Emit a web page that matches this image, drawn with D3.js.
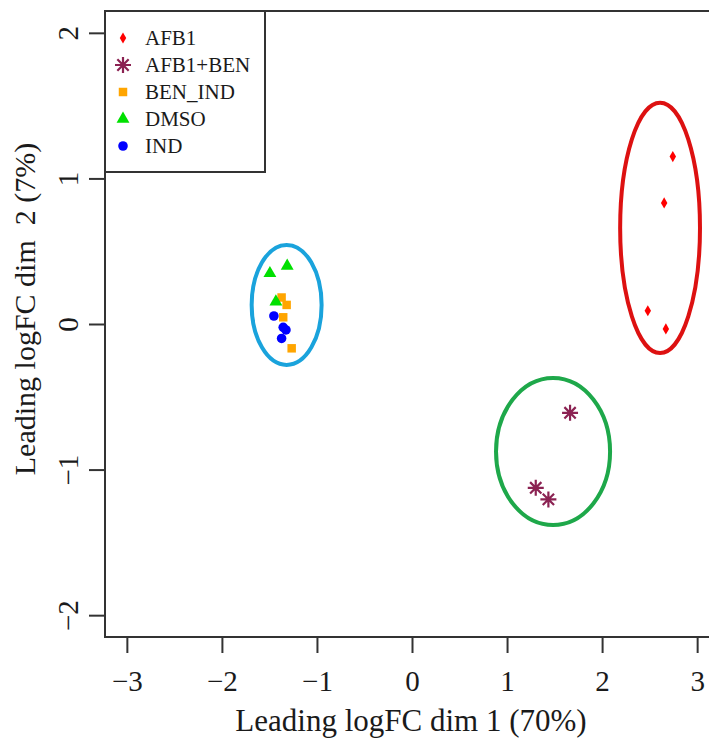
<!DOCTYPE html>
<html>
<head>
<meta charset="utf-8">
<script src="https://cdn.jsdelivr.net/npm/d3@7"></script>
<style>
  body { margin: 0; background: #fff; }
  svg text { font-family: "Liberation Serif", "Times New Roman", serif; fill: #1a1a1a; }
</style>
</head>
<body>
<script>
// MDS plot, leading logFC dims

var width = 709,
    height = 742;

// groups and sample coordinates (dim1, dim2)
var groups = ["AFB1", "AFB1+BEN", "BEN_IND", "DMSO", "IND"];
var groupColors = ["#ff0000", "#8b2252", "#ffa500", "#00e000", "#0000ff"];
var groupShapes = ["diamond", "asterisk", "square", "triangle", "circle"];

var afb1 = [[2.744, 1.150], [2.653, 0.832], [2.481, 0.091], [2.671, -0.034]];
var afb1Ben = [[1.663, -0.610], [1.302, -1.125], [1.435, -1.205]];
var benInd = [[-1.372, 0.182], [-1.319, 0.131], [-1.355, 0.046], [-1.266, -0.167]];
var dmso = [[-1.495, 0.348], [-1.313, 0.399], [-1.432, 0.153]];
var ind = [[-1.453, 0.055], [-1.355, -0.023], [-1.326, -0.041], [-1.372, -0.099]];

var samples = [afb1, afb1Ben, benInd, dmso, ind];

// cluster ellipses: centre x, centre y, radius x, radius y (data units)
var ellipseCx = [2.61, 1.484, -1.319];
var ellipseCy = [0.66, -0.876, 0.131];
var ellipseRx = [0.42, 0.60, 0.368];
var ellipseRy = [0.86, 0.505, 0.412];
var ellipseColors = ["#dd1111", "#1ea84a", "#1aa3dc"];

var xTicks = [-3, -2, -1, 0, 1, 2, 3];
var yTicks = [-2, -1, 0, 1, 2];

var svg = d3.select("body")
    .append("svg")
    .attr("width", width)
    .attr("height", height);

var x = d3.scaleLinear()
    .domain([-3.23, 3.23])
    .range([105, 719]);

var y = d3.scaleLinear()
    .domain([-2.15, 2.15])
    .range([637, 11]);

// ellipses
svg.append("g")
  .selectAll("ellipse")
  .data(ellipseCx)
  .enter().append("ellipse")
    .attr("cx", function(d) { return x(d); })
    .attr("cy", function(d, i) { return y(ellipseCy[i]); })
    .attr("rx", function(d, i) { return x(d + ellipseRx[i]) - x(d); })
    .attr("ry", function(d, i) { return y(ellipseCy[i] - ellipseRy[i]) - y(ellipseCy[i]); })
    .attr("fill", "none")
    .attr("stroke", function(d, i) { return ellipseColors[i]; })
    .attr("stroke-width", 4);

// draw one marker
function marker(sel, shape, color) {
    if (shape === "asterisk") {
        var r = 8, d = r * 0.707;
        var p = "M" + (-r) + ",0H" + r + "M0," + (-r) + "V" + r +
                "M" + (-d) + "," + (-d) + "L" + d + "," + d +
                "M" + (-d) + "," + d + "L" + d + "," + (-d);
        sel.append("path").attr("d", p).attr("stroke", color)
            .attr("stroke-width", 2.2).attr("fill", "none");
    } else {
        var sym = {
            diamond: d3.symbol().type(d3.symbolDiamond).size(36),
            square: d3.symbol().type(d3.symbolSquare).size(72),
            triangle: d3.symbol().type(d3.symbolTriangle).size(72),
            circle: d3.symbol().type(d3.symbolCircle).size(72)
        }[shape];
        sel.append("path").attr("d", sym).attr("fill", color);
    }
}

// points
samples.forEach(function(pts, gi) {
    svg.append("g")
      .selectAll("g")
      .data(pts)
      .enter().append("g")
        .attr("transform", function(d) { return "translate(" + x(d[0]) + "," + y(d[1]) + ")"; })
        .each(function() { marker(d3.select(this), groupShapes[gi], groupColors[gi]); });
});

// plot box
svg.append("rect")
    .attr("x", x.range()[0])
    .attr("y", y.range()[1])
    .attr("width", x.range()[1] - x.range()[0])
    .attr("height", y.range()[0] - y.range()[1])
    .attr("fill", "none")
    .attr("stroke", "#333")
    .attr("stroke-width", 2);

// x axis
var gx = svg.append("g")
    .attr("transform", "translate(0," + y.range()[0] + ")")
    .call(d3.axisBottom(x).tickValues(xTicks).tickFormat(d3.format("d")).tickSize(16).tickPadding(17));
gx.select(".domain").remove();
gx.selectAll(".tick line").attr("stroke", "#333").attr("stroke-width", 2);
gx.selectAll(".tick text").attr("font-size", 29).attr("fill", "#1a1a1a");

// y axis, labels parallel to axis
var gy = svg.append("g")
    .attr("transform", "translate(" + x.range()[0] + ",0)")
    .call(d3.axisLeft(y).tickValues(yTicks).tickFormat(d3.format("d")).tickSize(16));
gy.select(".domain").remove();
gy.selectAll(".tick line").attr("stroke", "#333").attr("stroke-width", 2);
gy.selectAll(".tick text")
    .attr("font-size", 29).attr("fill", "#1a1a1a")
    .attr("x", null)
    .attr("text-anchor", "middle")
    .attr("transform", "translate(-37,0) rotate(-90)")
    .attr("dy", "0.35em");

// axis titles
svg.append("text")
    .attr("x", 411)
    .attr("y", 731)
    .attr("text-anchor", "middle")
    .attr("font-size", 31)
    .text("Leading logFC dim 1 (70%)");

svg.append("text")
    .attr("transform", "translate(35,309) rotate(-90)")
    .attr("text-anchor", "middle")
    .attr("font-size", 30)
    .style("white-space", "pre")
    .text("Leading logFC dim  2 (7%)");

// legend
var legend = svg.append("g");
legend.append("rect")
    .attr("x", 105)
    .attr("y", 11)
    .attr("width", 160)
    .attr("height", 161)
    .attr("fill", "#fff")
    .attr("stroke", "#333")
    .attr("stroke-width", 2);

var items = legend.selectAll("g.item")
    .data(groups)
    .enter().append("g")
    .attr("class", "item")
    .attr("transform", function(d, i) { return "translate(123," + (38 + i * 27) + ")"; });

items.each(function(d, i) { marker(d3.select(this), groupShapes[i], groupColors[i]); });

items.append("text")
    .attr("x", 22)
    .attr("dy", "0.35em")
    .attr("font-size", 21)
    .text(function(d) { return d; });
</script>
</body>
</html>
